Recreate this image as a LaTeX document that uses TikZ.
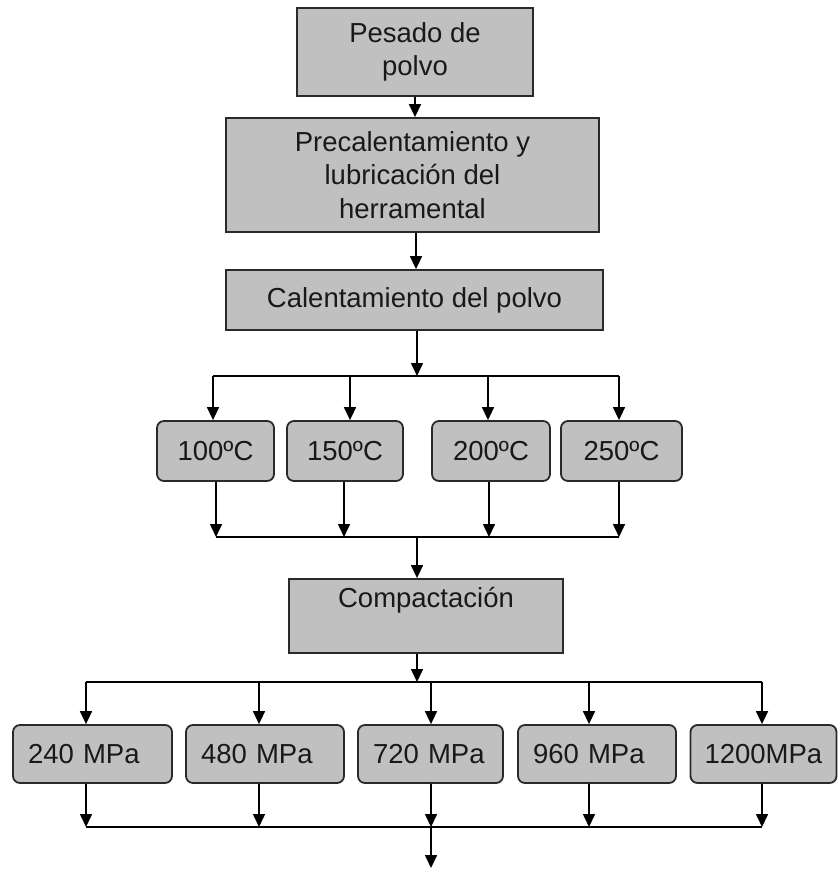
\documentclass[tikz,border=0pt]{standalone}
\usepackage{fontspec}
\setmainfont{Liberation Sans}
\usetikzlibrary{arrows.meta}
\definecolor{boxfill}{HTML}{C0C0C0}
\definecolor{boxline}{HTML}{2A2A2A}
\begin{document}
\begin{tikzpicture}[x=1pt,y=-1pt,
  every node/.style={font=\fontsize{27.5}{33.5}\selectfont, text=black!90},
  sqbox/.style={draw=boxline, fill=boxfill, line width=1.8pt, inner sep=0pt, align=center},
  rbox/.style={sqbox, rounded corners=7pt},
  mbox/.style={rbox, align=left, inner xsep=15pt},
  arr/.style={draw=black, line width=1.6pt, -{Triangle[width=12pt,length=13pt]}},
  ln/.style={draw=black, line width=1.6pt}]
\useasboundingbox (0,0) rectangle (838,869);
% main boxes
\node[sqbox, minimum width=236pt, minimum height=88pt] (b1) at (415,52) {Pesado de\\polvo};
\node[sqbox, minimum width=373pt, minimum height=114pt] (b2) at (412.5,175) {Precalentamiento y\\lubricación del\\herramental};
\node[sqbox, minimum width=377pt, minimum height=60pt] (b3) at (414.5,300) {Calentamiento del polvo};
% temperature boxes
\node[rbox, minimum width=117pt, minimum height=60pt] (t1) at (215.5,451) {100ºC};
\node[rbox, minimum width=116pt, minimum height=60pt] (t2) at (345,451) {150ºC};
\node[rbox, minimum width=118pt, minimum height=60pt] (t3) at (491,451) {200ºC};
\node[rbox, minimum width=121pt, minimum height=60pt] (t4) at (621.5,451) {250ºC};
% compaction
\node[sqbox, minimum width=274pt, minimum height=74pt] (comp) at (426,616) {Compactación\\[4pt]~};
% pressure boxes
\node[mbox, text width=129pt, minimum height=58pt] (p1) at (92.5,754) {240 MPa};
\node[mbox, text width=128pt, minimum height=58pt] (p2) at (265,754) {480 MPa};
\node[mbox, text width=115pt, minimum height=58pt] (p3) at (430.5,754) {720 MPa};
\node[mbox, text width=128pt, minimum height=58pt] (p4) at (597,754) {960 MPa};
\node[mbox, text width=118pt, minimum height=58pt, inner xsep=14pt] (p5) at (763.5,754) {1200MPa};
% coordinates
\coordinate (s1) at (415,60);
\coordinate (s2) at (416,60);
\coordinate (u0) at (417,376);
\coordinate (u1) at (213,376);
\coordinate (u2) at (350,376);
\coordinate (u3) at (488,376);
\coordinate (u4) at (619,376);
\coordinate (d1) at (216,537);
\coordinate (d2) at (344,537);
\coordinate (d3) at (489,537);
\coordinate (d4) at (619,537);
\coordinate (d0) at (417,537);
\coordinate (v0) at (417,682);
\coordinate (v1) at (86,682);
\coordinate (v2) at (259,682);
\coordinate (v3) at (431,682);
\coordinate (v4) at (589,682);
\coordinate (v5) at (762,682);
\coordinate (w1) at (86,827);
\coordinate (w2) at (259,827);
\coordinate (w3) at (431,827);
\coordinate (w4) at (589,827);
\coordinate (w5) at (762,827);
\coordinate (endpt) at (431,868);
% connectors
\draw[arr] (s1 |- b1.south) -- (s1 |- b2.north);
\draw[arr] (s2 |- b2.south) -- (s2 |- b3.north);
\draw[arr] (u0 |- b3.south) -- (u0);
\draw[ln] (u1) -- (u4);
\foreach \i in {1,2,3,4} {\draw[arr] (u\i) -- (u\i |- t\i.north);}
\foreach \i in {1,2,3,4} {\draw[arr] (d\i |- t\i.south) -- (d\i);}
\draw[ln] (d1) -- (d4);
\draw[arr] (d0) -- (d0 |- comp.north);
\draw[arr] (v0 |- comp.south) -- (v0);
\draw[ln] (v1) -- (v5);
\foreach \i in {1,2,3,4,5} {\draw[arr] (v\i) -- (v\i |- p\i.north);}
\foreach \i in {1,2,3,4,5} {\draw[arr] (w\i |- p\i.south) -- (w\i);}
\draw[ln] (w1) -- (w5);
\draw[arr] (w3) -- (endpt);
\end{tikzpicture}
\end{document}
